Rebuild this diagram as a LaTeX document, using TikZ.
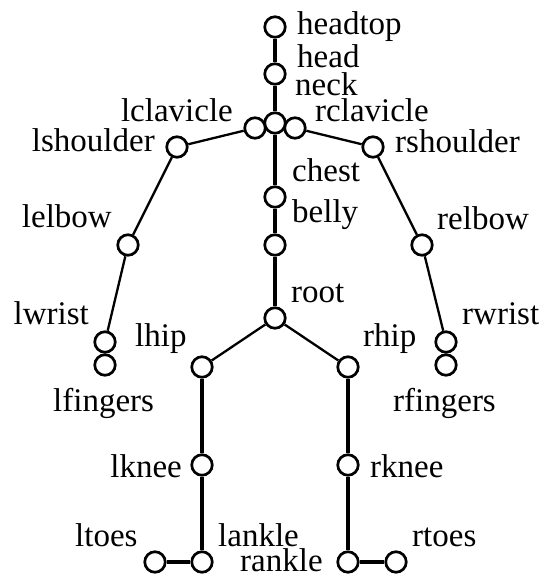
\documentclass[tikz,border=0pt]{standalone}
\usepackage{fontspec}
\setmainfont{Liberation Serif}
\begin{document}
\begin{tikzpicture}[x=1pt,y=-1pt,
  joint/.style={circle,draw=black,line width=2.7pt,minimum size=20.5pt,inner sep=0pt},
  lbl/.style={inner sep=0pt,font=\fontsize{33}{38}\selectfont,text=black},
  bone/.style={line width=2.3pt},
  spine/.style={line width=3.4pt}]
\useasboundingbox (0,0) rectangle (546,575);
% joints
\node[joint] (headtop) at (275,27) {};
\node[joint] (head) at (275,74) {};
\node[joint] (neck) at (275,123) {};
\node[joint] (lclavicle) at (255,128) {};
\node[joint] (rclavicle) at (295,128) {};
\node[joint] (lshoulder) at (177,147) {};
\node[joint] (rshoulder) at (373,147) {};
\node[joint] (chest) at (275,197) {};
\node[joint] (belly) at (275,245) {};
\node[joint] (lelbow) at (128,245) {};
\node[joint] (relbow) at (422,245) {};
\node[joint] (root) at (275,318) {};
\node[joint] (lwrist) at (105,342) {};
\node[joint] (lfingers) at (105,365) {};
\node[joint] (rwrist) at (446,342) {};
\node[joint] (rfingers) at (446,365) {};
\node[joint] (lhip) at (202,367) {};
\node[joint] (rhip) at (348,367) {};
\node[joint] (lknee) at (202,465) {};
\node[joint] (rknee) at (348,465) {};
\node[joint] (lankle) at (202,562) {};
\node[joint] (ltoes) at (155,562) {};
\node[joint] (rankle) at (348,562) {};
\node[joint] (rtoes) at (396,562) {};
% bones
\draw[spine] (headtop) -- (head);
\draw[spine] (head) -- (neck);
\draw[spine] (neck) -- (chest);
\draw[spine] (chest) -- (belly);
\draw[spine] (belly) -- (root);
\draw[bone] (lclavicle) -- (lshoulder);
\draw[bone] (rclavicle) -- (rshoulder);
\draw[bone] (lshoulder) -- (lelbow);
\draw[bone] (rshoulder) -- (relbow);
\draw[bone] (lelbow) -- (lwrist);
\draw[bone] (relbow) -- (rwrist);
\draw[bone] (root) -- (lhip);
\draw[bone] (root) -- (rhip);
\draw[spine] (lhip) -- (lknee);
\draw[spine] (rhip) -- (rknee);
\draw[spine] (lknee) -- (lankle);
\draw[spine] (rknee) -- (rankle);
\draw[spine] (lankle) -- (ltoes);
\draw[spine] (rankle) -- (rtoes);
% labels
\node[lbl,anchor=mid west] (t1) at (297,32) {headtop};
\node[lbl,anchor=mid west] (t2) at (297,65) {head};
\node[lbl,anchor=mid west] (t3) at (295,93) {neck};
\node[lbl,anchor=mid west] (t4) at (315,119) {rclavicle};
\node[lbl,anchor=mid east] (t5) at (233,119) {lclavicle};
\node[lbl,anchor=mid east] (t6) at (155,149) {lshoulder};
\node[lbl,anchor=mid west] (t7) at (395,150) {rshoulder};
\node[lbl,anchor=mid west] (t8) at (292,179) {chest};
\node[lbl,anchor=mid west] (t9) at (292,220) {belly};
\node[lbl,anchor=mid east] (t10) at (112,225) {lelbow};
\node[lbl,anchor=mid west] (t11) at (437,227) {relbow};
\node[lbl,anchor=mid west] (t12) at (291,300) {root};
\node[lbl,anchor=mid east] (t13) at (89,322) {lwrist};
\node[lbl,anchor=mid west] (t14) at (462,322) {rwrist};
\node[lbl,anchor=mid west] (t15) at (135,344) {lhip};
\node[lbl,anchor=mid west] (t16) at (363,344) {rhip};
\node[lbl,anchor=mid west] (t17) at (53,409) {lfingers};
\node[lbl,anchor=mid west] (t18) at (393,409) {rfingers};
\node[lbl,anchor=mid east] (t19) at (182,475) {lknee};
\node[lbl,anchor=mid west] (t20) at (370,475) {rknee};
\node[lbl,anchor=mid west] (t21) at (75,544) {ltoes};
\node[lbl,anchor=mid west] (t22) at (218,544) {lankle};
\node[lbl,anchor=mid west] (t23) at (240,569) {rankle};
\node[lbl,anchor=mid west] (t24) at (412,544) {rtoes};
\end{tikzpicture}
\end{document}
